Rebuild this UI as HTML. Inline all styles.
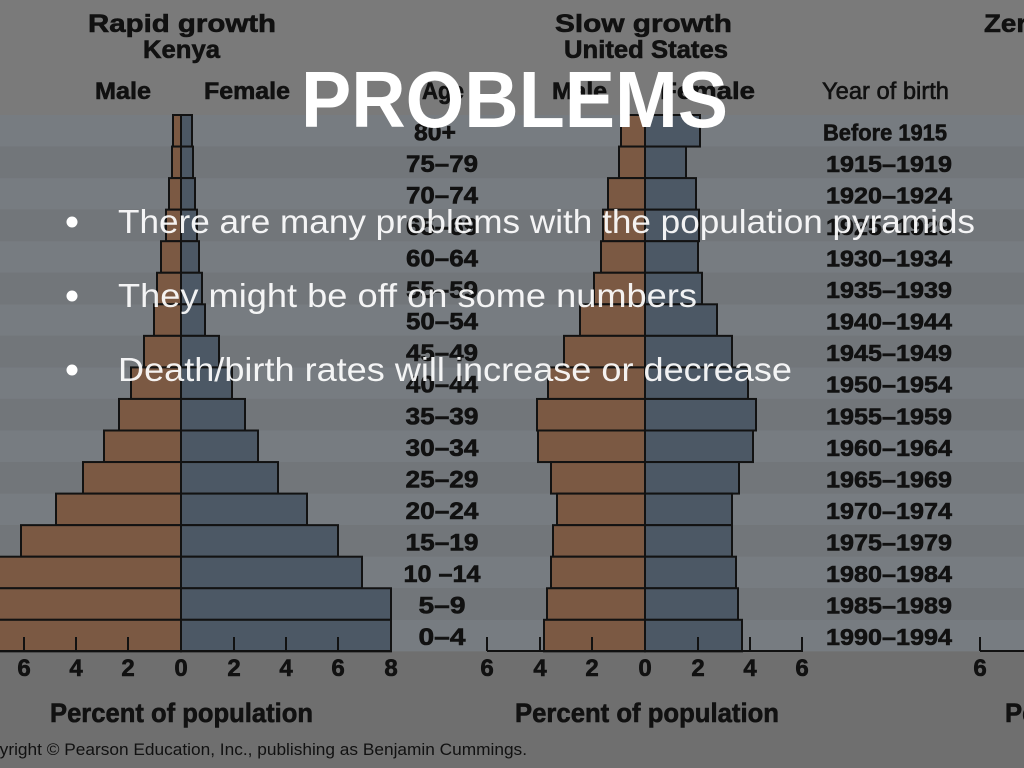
<!DOCTYPE html>
<html>
<head>
<meta charset="utf-8">
<style>
html,body{margin:0;padding:0;background:#737373;}
svg{display:block;}
.h{font-family:"Liberation Sans",Arial,sans-serif;font-weight:bold;fill:#111;stroke:#111;stroke-width:0.6;}
.n{font-family:"Liberation Sans",Arial,sans-serif;fill:#111;}
.w{font-family:"Liberation Sans",Arial,sans-serif;fill:#fff;}
</style>
</head>
<body>
<svg width="1024" height="768" viewBox="0 0 1024 768" xmlns="http://www.w3.org/2000/svg">
  <!-- backgrounds -->
  <rect x="0" y="0" width="1024" height="115" fill="#7a7a7a"/>
  <rect x="0" y="651" width="1024" height="117" fill="#6f6f6f"/>
  <g>
    <rect x="0" y="115" width="1024" height="31.55" fill="#777c81"/>
    <rect x="0" y="146.55" width="1024" height="31.55" fill="#72767a"/>
    <rect x="0" y="178.1" width="1024" height="31.55" fill="#777c81"/>
    <rect x="0" y="209.65" width="1024" height="31.55" fill="#72767a"/>
    <rect x="0" y="241.2" width="1024" height="31.55" fill="#777c81"/>
    <rect x="0" y="272.75" width="1024" height="31.55" fill="#72767a"/>
    <rect x="0" y="304.3" width="1024" height="31.55" fill="#777c81"/>
    <rect x="0" y="335.85" width="1024" height="31.55" fill="#72767a"/>
    <rect x="0" y="367.4" width="1024" height="31.55" fill="#777c81"/>
    <rect x="0" y="398.95" width="1024" height="31.55" fill="#72767a"/>
    <rect x="0" y="430.5" width="1024" height="31.55" fill="#777c81"/>
    <rect x="0" y="462.05" width="1024" height="31.55" fill="#72767a"/>
    <rect x="0" y="493.6" width="1024" height="31.55" fill="#777c81"/>
    <rect x="0" y="525.15" width="1024" height="31.55" fill="#72767a"/>
    <rect x="0" y="556.7" width="1024" height="31.55" fill="#777c81"/>
    <rect x="0" y="588.25" width="1024" height="31.55" fill="#72767a"/>
    <rect x="0" y="619.8" width="1024" height="31.55" fill="#777c81"/>
  </g>

  <!-- Headers -->
  <text class="h" x="88" y="32" font-size="25" textLength="188" lengthAdjust="spacingAndGlyphs">Rapid growth</text>
  <text class="h" x="143" y="58" font-size="25" textLength="77" lengthAdjust="spacingAndGlyphs">Kenya</text>
  <text class="h" x="95" y="99" font-size="24" textLength="56" lengthAdjust="spacingAndGlyphs">Male</text>
  <text class="h" x="204" y="99" font-size="24" textLength="86" lengthAdjust="spacingAndGlyphs">Female</text>
  <text class="h" x="422" y="99" font-size="24" textLength="42" lengthAdjust="spacingAndGlyphs">Age</text>

  <text class="h" x="555" y="32" font-size="25" textLength="177" lengthAdjust="spacingAndGlyphs">Slow growth</text>
  <text class="h" x="564" y="58" font-size="25" textLength="164" lengthAdjust="spacingAndGlyphs">United States</text>
  <text class="h" x="552" y="99" font-size="24" textLength="55" lengthAdjust="spacingAndGlyphs">Male</text>
  <text class="h" x="660" y="99" font-size="24" textLength="95" lengthAdjust="spacingAndGlyphs">Female</text>
  <text class="n" x="822" y="99" font-size="24" stroke="#111" stroke-width="0.6" textLength="127" lengthAdjust="spacingAndGlyphs">Year of birth</text>
  <text class="h" x="984" y="32" font-size="25" textLength="160" lengthAdjust="spacingAndGlyphs">Zero growth</text>

  <!-- Kenya bars -->
  <g stroke="#121212" stroke-width="2">
    <g fill="#7b5943">
      <rect x="173" y="115" width="8" height="31.55"/>
      <rect x="172" y="146.55" width="9" height="31.55"/>
      <rect x="169" y="178.1" width="12" height="31.55"/>
      <rect x="166" y="209.65" width="15" height="31.55"/>
      <rect x="161" y="241.2" width="20" height="31.55"/>
      <rect x="157" y="272.75" width="24" height="31.55"/>
      <rect x="154" y="304.3" width="27" height="31.55"/>
      <rect x="144" y="335.85" width="37" height="31.55"/>
      <rect x="131" y="367.4" width="50" height="31.55"/>
      <rect x="119" y="398.95" width="62" height="31.55"/>
      <rect x="104" y="430.5" width="77" height="31.55"/>
      <rect x="83" y="462.05" width="98" height="31.55"/>
      <rect x="56" y="493.6" width="125" height="31.55"/>
      <rect x="21" y="525.15" width="160" height="31.55"/>
      <rect x="-5" y="556.7" width="186" height="31.55"/>
      <rect x="-5" y="588.25" width="186" height="31.55"/>
      <rect x="-5" y="619.8" width="186" height="31.55"/>
    </g>
    <g fill="#4c5865">
      <rect x="181" y="115" width="11" height="31.55"/>
      <rect x="181" y="146.55" width="12" height="31.55"/>
      <rect x="181" y="178.1" width="14" height="31.55"/>
      <rect x="181" y="209.65" width="16" height="31.55"/>
      <rect x="181" y="241.2" width="18" height="31.55"/>
      <rect x="181" y="272.75" width="21" height="31.55"/>
      <rect x="181" y="304.3" width="24" height="31.55"/>
      <rect x="181" y="335.85" width="38" height="31.55"/>
      <rect x="181" y="367.4" width="51" height="31.55"/>
      <rect x="181" y="398.95" width="64" height="31.55"/>
      <rect x="181" y="430.5" width="77" height="31.55"/>
      <rect x="181" y="462.05" width="97" height="31.55"/>
      <rect x="181" y="493.6" width="126" height="31.55"/>
      <rect x="181" y="525.15" width="157" height="31.55"/>
      <rect x="181" y="556.7" width="181" height="31.55"/>
      <rect x="181" y="588.25" width="210" height="31.55"/>
      <rect x="181" y="619.8" width="210" height="31.55"/>
    </g>
  </g>

  <!-- US bars -->
  <g stroke="#121212" stroke-width="2">
    <g fill="#7b5943">
      <rect x="621" y="115" width="24" height="31.55"/>
      <rect x="619" y="146.55" width="26" height="31.55"/>
      <rect x="608" y="178.1" width="37" height="31.55"/>
      <rect x="603" y="209.65" width="42" height="31.55"/>
      <rect x="601" y="241.2" width="44" height="31.55"/>
      <rect x="594" y="272.75" width="51" height="31.55"/>
      <rect x="580" y="304.3" width="65" height="31.55"/>
      <rect x="564" y="335.85" width="81" height="31.55"/>
      <rect x="548" y="367.4" width="97" height="31.55"/>
      <rect x="537" y="398.95" width="108" height="31.55"/>
      <rect x="538" y="430.5" width="107" height="31.55"/>
      <rect x="551" y="462.05" width="94" height="31.55"/>
      <rect x="557" y="493.6" width="88" height="31.55"/>
      <rect x="553" y="525.15" width="92" height="31.55"/>
      <rect x="551" y="556.7" width="94" height="31.55"/>
      <rect x="547" y="588.25" width="98" height="31.55"/>
      <rect x="544" y="619.8" width="101" height="31.55"/>
    </g>
    <g fill="#4c5865">
      <rect x="645" y="115" width="55" height="31.55"/>
      <rect x="645" y="146.55" width="41" height="31.55"/>
      <rect x="645" y="178.1" width="51" height="31.55"/>
      <rect x="645" y="209.65" width="54" height="31.55"/>
      <rect x="645" y="241.2" width="53" height="31.55"/>
      <rect x="645" y="272.75" width="57" height="31.55"/>
      <rect x="645" y="304.3" width="72" height="31.55"/>
      <rect x="645" y="335.85" width="87" height="31.55"/>
      <rect x="645" y="367.4" width="103" height="31.55"/>
      <rect x="645" y="398.95" width="111" height="31.55"/>
      <rect x="645" y="430.5" width="108" height="31.55"/>
      <rect x="645" y="462.05" width="94" height="31.55"/>
      <rect x="645" y="493.6" width="87" height="31.55"/>
      <rect x="645" y="525.15" width="87" height="31.55"/>
      <rect x="645" y="556.7" width="91" height="31.55"/>
      <rect x="645" y="588.25" width="93" height="31.55"/>
      <rect x="645" y="619.8" width="97" height="31.55"/>
    </g>
  </g>

  <!-- Axes -->
  <g stroke="#111" stroke-width="2" fill="none">
    <line x1="0" y1="651" x2="392" y2="651"/>
    <line x1="24" y1="637" x2="24" y2="651"/>
    <line x1="76" y1="637" x2="76" y2="651"/>
    <line x1="128" y1="637" x2="128" y2="651"/>
    <line x1="234" y1="637" x2="234" y2="651"/>
    <line x1="286" y1="637" x2="286" y2="651"/>
    <line x1="338" y1="637" x2="338" y2="651"/>
    <line x1="487" y1="651" x2="803" y2="651"/>
    <line x1="487" y1="637" x2="487" y2="651"/>
    <line x1="540" y1="637" x2="540" y2="651"/>
    <line x1="592" y1="637" x2="592" y2="651"/>
    <line x1="698" y1="637" x2="698" y2="651"/>
    <line x1="750" y1="637" x2="750" y2="651"/>
    <line x1="802" y1="637" x2="802" y2="651"/>
    <line x1="980" y1="651" x2="1024" y2="651"/>
    <line x1="980" y1="637" x2="980" y2="651"/>
  </g>

  <!-- tick labels -->
  <g class="h" font-size="24" text-anchor="middle">
    <text x="24" y="676">6</text>
    <text x="76" y="676">4</text>
    <text x="128" y="676">2</text>
    <text x="181" y="676">0</text>
    <text x="234" y="676">2</text>
    <text x="286" y="676">4</text>
    <text x="338" y="676">6</text>
    <text x="391" y="676">8</text>
    <text x="487" y="676">6</text>
    <text x="540" y="676">4</text>
    <text x="592" y="676">2</text>
    <text x="645" y="676">0</text>
    <text x="698" y="676">2</text>
    <text x="750" y="676">4</text>
    <text x="802" y="676">6</text>
    <text x="980" y="676">6</text>
  </g>

  <text class="h" x="50" y="722" font-size="27" textLength="263" lengthAdjust="spacingAndGlyphs">Percent of population</text>
  <text class="h" x="515" y="722" font-size="27" textLength="264" lengthAdjust="spacingAndGlyphs">Percent of population</text>
  <text class="h" x="1005" y="722" font-size="27" textLength="264" lengthAdjust="spacingAndGlyphs">Percent of population</text>

  <text class="n" x="527" y="755" font-size="17" text-anchor="end" textLength="559" lengthAdjust="spacingAndGlyphs">Copyright © Pearson Education, Inc., publishing as Benjamin Cummings.</text>

  <!-- Age labels -->
  <g class="h" font-size="24" text-anchor="middle">
    <text x="435" y="140.3" textLength="42" lengthAdjust="spacingAndGlyphs">80+</text>
    <text x="442" y="171.85" textLength="72" lengthAdjust="spacingAndGlyphs">75–79</text>
    <text x="442" y="203.4" textLength="72" lengthAdjust="spacingAndGlyphs">70–74</text>
    <text x="442" y="234.95" textLength="72" lengthAdjust="spacingAndGlyphs">65–69</text>
    <text x="442" y="266.5" textLength="72" lengthAdjust="spacingAndGlyphs">60–64</text>
    <text x="442" y="298.05" textLength="72" lengthAdjust="spacingAndGlyphs">55–59</text>
    <text x="442" y="329.6" textLength="72" lengthAdjust="spacingAndGlyphs">50–54</text>
    <text x="442" y="361.15" textLength="72" lengthAdjust="spacingAndGlyphs">45–49</text>
    <text x="442" y="392.7" textLength="72" lengthAdjust="spacingAndGlyphs">40–44</text>
    <text x="442" y="424.25" textLength="73" lengthAdjust="spacingAndGlyphs">35–39</text>
    <text x="442" y="455.8" textLength="73" lengthAdjust="spacingAndGlyphs">30–34</text>
    <text x="442" y="487.35" textLength="73" lengthAdjust="spacingAndGlyphs">25–29</text>
    <text x="442" y="518.9" textLength="73" lengthAdjust="spacingAndGlyphs">20–24</text>
    <text x="442" y="550.45" textLength="73" lengthAdjust="spacingAndGlyphs">15–19</text>
    <text x="442" y="582" textLength="77" lengthAdjust="spacingAndGlyphs">10 –14</text>
    <text x="442" y="613.55" textLength="47" lengthAdjust="spacingAndGlyphs">5–9</text>
    <text x="442" y="645.1" textLength="47" lengthAdjust="spacingAndGlyphs">0–4</text>
  </g>

  <!-- Year labels -->
  <g class="h" font-size="23">
    <text x="823" y="140.3" textLength="124" lengthAdjust="spacingAndGlyphs">Before 1915</text>
    <text x="826" y="171.85" textLength="126" lengthAdjust="spacingAndGlyphs">1915–1919</text>
    <text x="826" y="203.4" textLength="126" lengthAdjust="spacingAndGlyphs">1920–1924</text>
    <text x="826" y="234.95" textLength="126" lengthAdjust="spacingAndGlyphs">1925–1929</text>
    <text x="826" y="266.5" textLength="126" lengthAdjust="spacingAndGlyphs">1930–1934</text>
    <text x="826" y="298.05" textLength="126" lengthAdjust="spacingAndGlyphs">1935–1939</text>
    <text x="826" y="329.6" textLength="126" lengthAdjust="spacingAndGlyphs">1940–1944</text>
    <text x="826" y="361.15" textLength="126" lengthAdjust="spacingAndGlyphs">1945–1949</text>
    <text x="826" y="392.7" textLength="126" lengthAdjust="spacingAndGlyphs">1950–1954</text>
    <text x="826" y="424.25" textLength="126" lengthAdjust="spacingAndGlyphs">1955–1959</text>
    <text x="826" y="455.8" textLength="126" lengthAdjust="spacingAndGlyphs">1960–1964</text>
    <text x="826" y="487.35" textLength="126" lengthAdjust="spacingAndGlyphs">1965–1969</text>
    <text x="826" y="518.9" textLength="126" lengthAdjust="spacingAndGlyphs">1970–1974</text>
    <text x="826" y="550.45" textLength="126" lengthAdjust="spacingAndGlyphs">1975–1979</text>
    <text x="826" y="582" textLength="126" lengthAdjust="spacingAndGlyphs">1980–1984</text>
    <text x="826" y="613.55" textLength="126" lengthAdjust="spacingAndGlyphs">1985–1989</text>
    <text x="826" y="645.1" textLength="126" lengthAdjust="spacingAndGlyphs">1990–1994</text>
  </g>

  <!-- Overlay title and bullets -->
  <text class="w" x="301" y="127" font-size="80" font-weight="bold" textLength="427" lengthAdjust="spacingAndGlyphs">PROBLEMS</text>

  <g fill="#fff">
    <circle cx="72" cy="222" r="5.5"/>
    <circle cx="72" cy="296" r="5.5"/>
    <circle cx="72" cy="370" r="5.5"/>
  </g>
  <g class="w" font-size="33" font-weight="300" fill-opacity="0.92">
    <text x="118" y="233" textLength="857" lengthAdjust="spacingAndGlyphs">There are many problems with the population pyramids</text>
    <text x="118" y="307" textLength="579" lengthAdjust="spacingAndGlyphs">They might be off on some numbers</text>
    <text x="118" y="381" textLength="674" lengthAdjust="spacingAndGlyphs">Death/birth rates will increase or decrease</text>
  </g>
</svg>
</body>
</html>
